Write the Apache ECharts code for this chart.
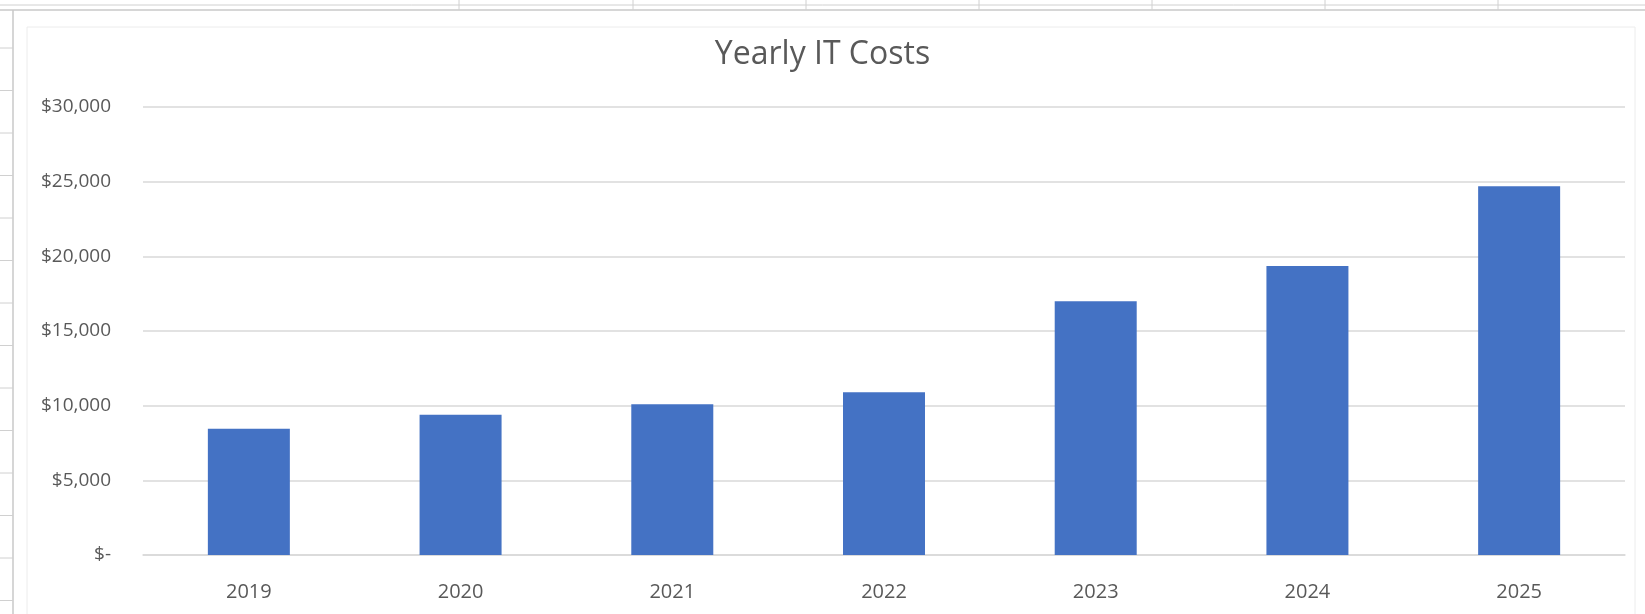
<!DOCTYPE html>
<html>
<head>
<meta charset="utf-8">
<script src="https://cdn.jsdelivr.net/npm/echarts@6/dist/echarts.min.js"></script>
<style>
html, body { margin: 0; padding: 0; background: #fff; }
#chart { width: 1645px; height: 614px; }
</style>
</head>
<body>
<div id="chart"></div>
<script>
// data
var years = ['2019', '2020', '2021', '2022', '2023', '2024', '2025']
var costs = [8450, 9400, 10100, 10900, 17000, 19350, 24700]
var yTicks = [0, 5000, 10000, 15000, 20000, 25000, 30000]

var textColor = '#595959'
var lineColor = '#d9d9d9'

function money (v) {
  if (v === 0) return '$-'
  return '$' + v.toLocaleString('en-US')
}

// spreadsheet behind the chart (decoration only)
var deco = []
deco.push({ type: 'line', shape: { x1: 0, y1: 5, x2: 1645, y2: 5 }, style: { stroke: '#d0d0d0', lineWidth: 1 } })
deco.push({ type: 'line', shape: { x1: 0, y1: 10, x2: 1645, y2: 10 }, style: { stroke: '#c8c8c8', lineWidth: 1.5 } })
;[459, 633, 806, 979, 1152, 1325, 1498].forEach(function (x) {
  deco.push({ type: 'line', shape: { x1: x, y1: 0, x2: x, y2: 10 }, style: { stroke: '#d0d0d0', lineWidth: 1 } })
})
deco.push({ type: 'line', shape: { x1: 13, y1: 10, x2: 13, y2: 614 }, style: { stroke: '#c8c8c8', lineWidth: 1.5 } })
for (var r = 48; r < 614; r += 42.5) {
  deco.push({ type: 'line', shape: { x1: 0, y1: r, x2: 13, y2: r }, style: { stroke: '#d0d0d0', lineWidth: 1 } })
}
deco.push({ type: 'rect', shape: { x: 27, y: 27, width: 1608, height: 590 }, style: { fill: 'none', stroke: '#ececec', lineWidth: 1 } })

var mychart = echarts.init(document.getElementById('chart'))
mychart.setOption({
  backgroundColor: '#fff',
  animation: false,
  title: {
    text: 'Yearly IT Costs',
    left: 'center',
    top: 34,
    textStyle: { fontFamily: 'Open Sans', fontSize: 32, fontWeight: 'normal', color: textColor }
  },
  graphic: deco,
  grid: { left: 143, right: 20, top: 107, bottom: 59 },
  xAxis: {
    type: 'category',
    data: years,
    axisLine: { lineStyle: { color: lineColor, width: 1.5 } },
    axisTick: { show: false },
    axisLabel: { color: textColor, fontFamily: 'Open Sans', fontSize: 20, margin: 27 }
  },
  yAxis: {
    type: 'value',
    min: yTicks[0],
    max: yTicks[yTicks.length - 1],
    interval: 5000,
    axisLine: { show: false },
    axisTick: { show: false },
    splitLine: { lineStyle: { color: lineColor, width: 1.5 } },
    axisLabel: { color: textColor, fontFamily: 'Open Sans', fontSize: 19, margin: 32, formatter: money }
  },
  series: [
    {
      type: 'bar',
      data: costs,
      barWidth: 82,
      itemStyle: { color: '#4472c4' }
    }
  ]
})
</script>
</body>
</html>
